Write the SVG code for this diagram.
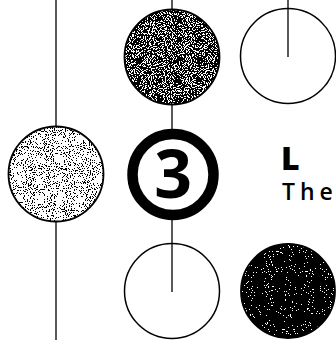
<svg xmlns="http://www.w3.org/2000/svg" width="336" height="340" viewBox="0 0 336 340">
<defs>
<style>
.ln{stroke:#000;stroke-width:1.3;fill:none}
.open{fill:none;stroke:#000;stroke-width:1.5}
.base{fill:#fff;stroke:#000;stroke-width:1.8}
.ring{fill:#fff;stroke:#000;stroke-width:10.5}
.num{font-family:"Open Sans","Liberation Sans",sans-serif;font-weight:700;font-size:66px;fill:#000;text-anchor:middle}
.h{font-family:"Open Sans","Liberation Sans",sans-serif;font-weight:800;font-size:32px;fill:#000}
.b{font-family:"Open Sans","Liberation Sans",sans-serif;font-weight:600;font-size:23px;letter-spacing:5px;fill:#000}
</style>
<filter id="light" x="0" y="0" width="100%" height="100%">
<feTurbulence type="fractalNoise" baseFrequency="0.95" numOctaves="2" seed="4" result="n"/>
<feColorMatrix in="n" type="matrix" values="0 0 0 0 0 0 0 0 0 0 0 0 0 0 0 1 0 0 0 0" result="a"/>
<feComponentTransfer in="a"><feFuncA type="discrete" tableValues="0 0 0 0 0 0 0 0 0 0 0 0 1 1 1 1 1 1 1 1"/></feComponentTransfer>
<feComposite operator="in" in2="SourceGraphic"/>
</filter>
<filter id="mid" x="0" y="0" width="100%" height="100%">
<feTurbulence type="fractalNoise" baseFrequency="0.95" numOctaves="2" seed="9" result="n"/>
<feColorMatrix in="n" type="matrix" values="0 0 0 0 0 0 0 0 0 0 0 0 0 0 0 1 0 0 0 0" result="a"/>
<feComponentTransfer in="a"><feFuncA type="discrete" tableValues="0 0 0 0 0 0 0 0 0 1 1 1 1 1 1 1 1 1 1 1"/></feComponentTransfer>
<feComposite operator="in" in2="SourceGraphic"/>
</filter>
<filter id="dark" x="0" y="0" width="100%" height="100%">
<feTurbulence type="fractalNoise" baseFrequency="0.95" numOctaves="2" seed="2" result="n"/>
<feColorMatrix in="n" type="matrix" values="0 0 0 0 0 0 0 0 0 0 0 0 0 0 0 1 0 0 0 0" result="a"/>
<feComponentTransfer in="a"><feFuncA type="discrete" tableValues="0 0 0 0 0 0 1 1 1 1 1 1 1 1 1 1 1 1 1 1"/></feComponentTransfer>
<feComposite operator="in" in2="SourceGraphic"/>
</filter>
</defs>
<rect width="336" height="340" fill="#fff"/>
<g id="connectors">
<line class="ln" x1="56" y1="0" x2="56" y2="340"/>
<line class="ln" x1="172" y1="0" x2="172" y2="292"/>
<line class="ln" x1="288" y1="0" x2="288" y2="57"/>
</g>
<g id="node-top-dark">
<circle class="base" cx="172" cy="57" r="47.5"/>
<circle cx="172" cy="57" r="47.5" fill="#000" filter="url(#mid)"/>
</g>
<g id="node-top-open">
<circle class="open" cx="288" cy="56" r="47.5"/>
</g>
<g id="node-left-light">
<circle class="base" cx="56" cy="174" r="47.5" stroke-width="1.2"/>
<circle cx="56" cy="174" r="47.5" fill="#000" filter="url(#light)"/>
</g>
<g id="node-3">
<circle class="ring" cx="173" cy="174.5" r="40.5"/>
<text class="num" x="173" y="198">3</text>
</g>
<g id="node-text">
<text class="h" x="281" y="170">L</text>
<text class="b" x="282" y="200">The</text>
</g>
<g id="node-bottom-open">
<circle class="open" cx="172" cy="291" r="47.5"/>
</g>
<g id="node-bottom-dark">
<circle class="base" cx="288" cy="291" r="47"/>
<circle cx="288" cy="291" r="47" fill="#000" filter="url(#dark)"/>
</g>
</svg>
